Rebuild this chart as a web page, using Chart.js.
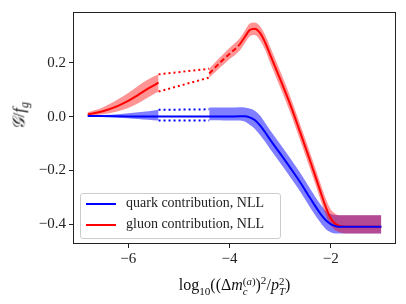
<html>
<head>
<meta charset="utf-8"/>
<title>G over f_g</title>
<script src="https://cdn.jsdelivr.net/npm/chart.js"></script>
<style>
  body { margin: 0; background: #fff; }
  #wrap { position: relative; width: 406px; height: 304px; font-family: "Liberation Serif", serif; }
  #xt { position: absolute; left: 73px; width: 323px; top: 274px; text-align: center; font-size: 16px; color: #111; }
  #yt { position: absolute; left: -12px; top: 104px; width: 66px; text-align: center; font-size: 17px; color: #111; transform: rotate(-90deg); }
  .ss { display: inline-block; vertical-align: -0.45em; line-height: 0.95; font-size: 0.68em; text-align: left; }
  .ss span { display: block; }
  #legend { position: absolute; left: 80px; top: 193px; width: 199px; height: 44px; border: 1px solid #ccc; border-radius: 3px; background: rgba(255,255,255,0.8); font-size: 14px; color: #222; }
  .row { position: absolute; left: 0; height: 20px; width: 100%; }
  .row .ln { position: absolute; left: 5px; top: 9px; width: 30px; height: 2px; }
  .row .tx { position: absolute; left: 45px; top: 1px; white-space: nowrap; }
</style>
</head>
<body>
<div id="wrap">
  <canvas id="c" width="406" height="304"></canvas>
  <div id="yt"><i>𝒢</i>/<i>f</i><sub style="font-size:0.7em"><i>g</i></sub></div>
  <div id="xt">log<sub style="font-size:0.7em">10</sub>((Δ<i>m</i><span class="ss"><span>(<i>a</i>)</span><span><i>c</i></span></span>)<sup style="font-size:0.7em">2</sup>/<i>p</i><span class="ss"><span>2</span><span><i>T</i></span></span>)</div>
  <div id="legend">
    <div class="row" style="top:0px"><div class="ln" style="background:#0000ff"></div><div class="tx">quark contribution, NLL</div></div>
    <div class="row" style="top:21px"><div class="ln" style="background:#ff0000"></div><div class="tx">gluon contribution, NLL</div></div>
  </div>
</div>
<script>
// tick positions
const xTicks = [-6, -4, -2];
const yTicks = [-0.4, -0.2, 0.0, 0.2];

// first piece of the bands (before the gap)
const xBand1 = [-6.8, -6.5, -6.2, -6.0, -5.8, -5.6, -5.4];
const redMid1 = [0.008, 0.020, 0.040, 0.058, 0.081, 0.105, 0.126];
const redHi1 = [0.016, 0.034, 0.064, 0.088, 0.115, 0.139, 0.157];
const redLo1 = [0.002, 0.009, 0.020, 0.032, 0.050, 0.072, 0.093];
const blueHi1 = [0.004, 0.006, 0.009, 0.012, 0.016, 0.020, 0.025];
const blueLo1 = [-0.001, -0.002, -0.004, -0.006, -0.009, -0.012, -0.015];

// dotted edges across the gap
const xGap = [-5.4, -4.4];
const redGapHi = [0.157, 0.178];
const redGapLo = [0.093, 0.145];
const blueGapHi = [0.025, 0.027];
const blueGapLo = [-0.015, -0.015];

// second piece (after the gap)
const xBand2 = [-4.4, -4.2, -4.0, -3.8, -3.7, -3.6, -3.5, -3.4, -3.3, -3.2, -3.0, -2.8, -2.6, -2.4, -2.2, -2.1, -2.0, -1.9, -1.8, -1.6, -1.3, -1.0];
const redMid2 = [0.160, 0.198, 0.233, 0.268, 0.295, 0.322, 0.327, 0.312, 0.278, 0.232, 0.140, 0.045, -0.060, -0.168, -0.280, -0.335, -0.378, -0.400, -0.408, -0.41, -0.41, -0.41];
const redHi2 = [0.178, 0.218, 0.255, 0.290, 0.318, 0.346, 0.350, 0.337, 0.305, 0.262, 0.170, 0.075, -0.030, -0.138, -0.250, -0.304, -0.345, -0.362, -0.367, -0.367, -0.367, -0.367];
const redLo2 = [0.145, 0.180, 0.213, 0.245, 0.272, 0.298, 0.303, 0.285, 0.250, 0.202, 0.110, 0.015, -0.090, -0.198, -0.310, -0.365, -0.403, -0.424, -0.432, -0.435, -0.435, -0.435];
const blueHi2 = [0.034, 0.034, 0.034, 0.035, 0.034, 0.030, 0.022, 0.005, -0.022, -0.050, -0.102, -0.155, -0.210, -0.270, -0.327, -0.350, -0.362, -0.366, -0.367, -0.367, -0.367, -0.367];
const blueLo2 = [-0.014, -0.014, -0.015, -0.015, -0.018, -0.030, -0.045, -0.068, -0.092, -0.120, -0.172, -0.225, -0.280, -0.340, -0.395, -0.418, -0.430, -0.435, -0.435, -0.435, -0.435, -0.435];

// quark central line, all the way through
const xBlue = [-6.8, -6.2, -5.4, -4.4, -4.0, -3.8, -3.7, -3.6, -3.5, -3.4, -3.3, -3.2, -3.0, -2.8, -2.6, -2.4, -2.2, -2.1, -2.0, -1.9, -1.8, -1.6, -1.3, -1.0];
const blueMid = [0.002, 0.001, 0.0, 0.0, 0.0, 0.001, 0.001, -0.003, -0.013, -0.032, -0.057, -0.085, -0.137, -0.190, -0.245, -0.305, -0.362, -0.385, -0.400, -0.408, -0.41, -0.41, -0.41, -0.41];

const dashEnd = -3.8;
const BLUE = '#0000ff', RED = '#ff0000';
const BLUE_BAND = 'rgba(0,0,255,0.5)', RED_BAND = 'rgba(255,0,0,0.42)';

function pts(xs, ys) { return xs.map((x, i) => ({x: x, y: ys[i]})); }

function edge(xs, ys, order) {
  return { data: pts(xs, ys), borderWidth: 0, pointRadius: 0, fill: false, order: order, cubicInterpolationMode: 'monotone' };
}
function band(xs, ys, target, color, order) {
  return { data: pts(xs, ys), borderWidth: 0, pointRadius: 0, fill: target, backgroundColor: color, order: order, cubicInterpolationMode: 'monotone' };
}
function line(xs, ys, color, order, dash) {
  return { data: pts(xs, ys), borderColor: color, borderWidth: 2, pointRadius: 0, fill: false, order: order,
           borderDash: dash || [], cubicInterpolationMode: 'monotone' };
}

const datasets = [
  edge(xBand1, blueLo1, 10),                 // 0
  band(xBand1, blueHi1, 0, BLUE_BAND, 9),    // 1
  edge(xBand2, blueLo2, 10),                 // 2
  band(xBand2, blueHi2, 2, BLUE_BAND, 9),    // 3
  edge(xBand1, redLo1, 8),                   // 4
  band(xBand1, redHi1, 4, RED_BAND, 7),      // 5
  edge(xBand2, redLo2, 8),                   // 6
  band(xBand2, redHi2, 6, RED_BAND, 7),      // 7
  line(xGap, redGapHi, RED, 5, [2, 3]),      // 8
  line(xGap, redGapLo, RED, 5, [2, 3]),      // 9
  line(xGap, blueGapHi, BLUE, 5, [2, 3]),    // 10
  line(xGap, blueGapLo, BLUE, 5, [2, 3]),    // 11
  line(xBand1, redMid1, RED, 3),             // 12
  line(xBand2, redMid2, RED, 3),             // 13
  line(xBlue, blueMid, BLUE, 1)              // 14
];
// red central line is dashed until the peak rise
datasets[13].segment = { borderDash: ctx => ctx.p0.parsed.x < dashEnd - 0.01 ? [5, 3] : undefined };

const minus = s => String(s).replace('-', '\u2212');

const frame = {
  id: 'frame',
  afterDraw(chart) {
    const a = chart.chartArea, g = chart.ctx;
    g.save();
    g.strokeStyle = '#222';
    g.lineWidth = 1;
    g.strokeRect(Math.round(a.left) + 0.5, Math.round(a.top) + 0.5, Math.round(a.right - a.left) - 1, Math.round(a.bottom - a.top) - 1);
    g.restore();
  }
};

const tickFont = { family: 'Liberation Serif', size: 15 };

new Chart(document.getElementById('c'), {
  type: 'line',
  data: { datasets: datasets },
  options: {
    responsive: false,
    animation: false,
    devicePixelRatio: 1,
    layout: { padding: { left: 0, right: 10, top: 9, bottom: 0 } },
    plugins: { legend: { display: false }, tooltip: { enabled: false } },
    scales: {
      x: {
        type: 'linear', min: -7.09, max: -0.71,
        afterBuildTicks: ax => { ax.ticks = xTicks.map(v => ({value: v})); },
        afterFit: ax => { ax.height = 60; },
        ticks: { autoSkip: false, maxRotation: 0, color: '#222', font: tickFont, padding: 2, callback: v => minus(v) },
        grid: { drawOnChartArea: false, drawTicks: true, tickLength: 4, color: '#222' },
        border: { display: false }
      },
      y: {
        type: 'linear', min: -0.474, max: 0.389,
        afterBuildTicks: ax => { ax.ticks = yTicks.map(v => ({value: v})); },
        afterFit: ax => { ax.width = 73; },
        ticks: { autoSkip: false, color: '#222', font: tickFont, padding: 3, callback: v => minus(v.toFixed(1)) },
        grid: { drawOnChartArea: false, drawTicks: true, tickLength: 4, color: '#222' },
        border: { display: false }
      }
    }
  },
  plugins: [frame]
});
</script>
</body>
</html>
